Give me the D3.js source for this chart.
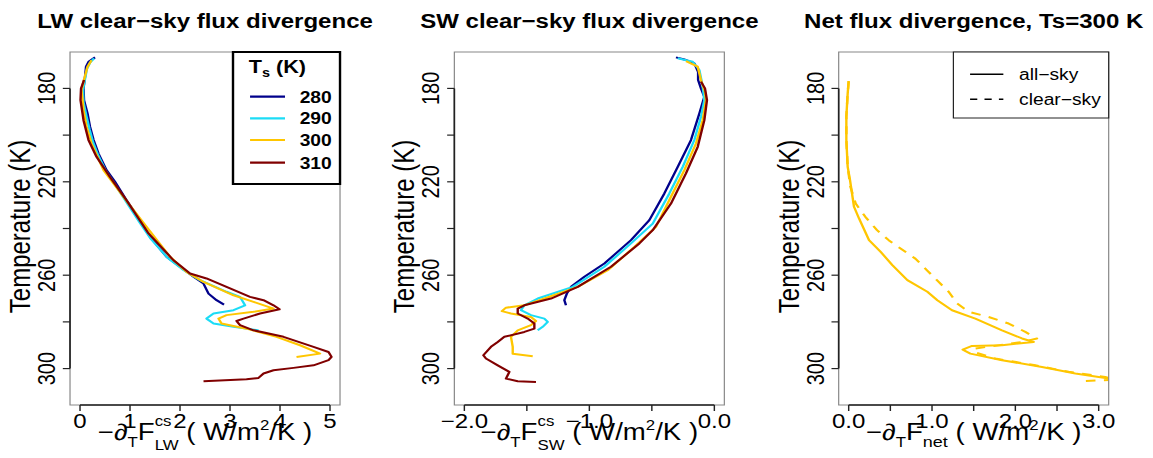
<!DOCTYPE html>
<html>
<head>
<meta charset="utf-8">
<script src="https://cdn.jsdelivr.net/npm/d3@7"></script>
<style>
  body { margin: 0; background: #fff; }
  text { font-family: "Liberation Sans", Arial, Helvetica, sans-serif; fill: #000; }
</style>
</head>
<body>
<svg id="chart"></svg>
<script>
// temperature axis (shared by all panels)
const yTicks = [180, 200, 220, 240, 260, 280, 300];
const yLabels = [180, 220, 260, 300];

// surface temperatures of the LW / SW panels
const surfaceTemps = ["280", "290", "300", "310"];

// x ticks per panel
const lwTicks = [0, 1, 2, 3, 4, 5];
const lwLabels = [0, 1, 2, 3, 4, 5];
const swTicks = [-2, -1.5, -1, -0.5, 0];
const swLabels = [-2, -1, 0];
const netTicks = [0, 0.5, 1, 1.5, 2, 2.5, 3];
const netLabels = [0, 1, 2, 3];

// [flux divergence, temperature]
const lw280 = [[0.30,166.7],[0.17,168.6],[0.12,170.7],[0.10,175],[0.07,180],[0.08,185],[0.15,190.7],[0.20,196.4],[0.27,202],[0.37,207.9],[0.53,215],[0.70,220],[0.93,227.9],[1.20,236.4],[1.40,243.6],[1.73,252.1],[2.00,256.4],[2.27,260.7],[2.47,263.6],[2.57,267.9],[2.73,270.7],[2.88,272.6]];
const lw290 = [[0.28,167.1],[0.20,169],[0.14,171.5],[0.10,176],[0.06,180.5],[0.07,186],[0.13,192],[0.19,197.5],[0.26,203],[0.36,208.5],[0.52,215.5],[0.68,220.5],[0.92,228.5],[1.18,237],[1.40,244],[1.75,252.5],[2.05,257.5],[2.40,262.1],[2.93,267.1],[3.20,269.3],[3.30,272.9],[3.07,275],[2.67,276.4],[2.53,278.6],[2.67,280.7],[3.07,282.1],[3.57,283.6]];
const lw300 = [[0.23,167.9],[0.15,170.7],[0.07,177],[0.03,180.7],[0.07,189.3],[0.13,196.4],[0.23,203.6],[0.47,215],[0.67,220.7],[0.97,229.3],[1.33,239.3],[1.80,252.1],[2.13,258.6],[2.47,262.9],[3.07,268.6],[3.47,271.4],[3.87,274.3],[3.47,275.7],[2.93,277.1],[2.77,278.6],[2.83,280.7],[3.33,282.9],[3.93,286.4],[4.40,290],[4.80,293.6],[4.33,295]];
const lw310 = [[0.08,176.4],[0.02,180],[0.01,185],[0.07,193.6],[0.17,202.1],[0.33,209.3],[0.60,217.9],[0.93,227.9],[1.37,242.1],[1.87,253.6],[2.20,259.3],[2.53,261.4],[2.93,265],[3.40,269.3],[3.67,270.7],[3.87,272.9],[3.99,274.6],[3.60,276.4],[3.27,278.6],[3.13,279.6],[3.20,281.4],[3.47,283.6],[4.07,286.4],[4.67,290.7],[4.97,292.9],[5.03,295],[4.97,296.4],[4.67,298.6],[4.27,299.7],[3.87,300.7],[3.67,302.1],[3.57,304],[3.33,304.6],[2.47,305.4]];

const sw280 = [[-0.307,166.7],[-0.24,167.6],[-0.16,169.3],[-0.13,172.9],[-0.13,176.4],[-0.107,180],[-0.08,183.6],[-0.12,190.7],[-0.187,202.1],[-0.293,213.6],[-0.40,225],[-0.52,236.4],[-0.667,245],[-0.88,255],[-1.04,260.7],[-1.147,265],[-1.18,267.9],[-1.20,270.7],[-1.187,272.9]];
const sw290 = [[-0.293,167.1],[-0.173,168.6],[-0.12,172.1],[-0.093,179.3],[-0.08,185],[-0.107,192.1],[-0.16,202.1],[-0.253,213.6],[-0.36,225],[-0.493,237.9],[-0.667,246.4],[-0.88,256.4],[-1.133,265],[-1.413,270],[-1.52,272.9],[-1.547,275],[-1.467,277.1],[-1.36,278.6],[-1.333,280],[-1.373,282.1],[-1.413,283.6]];
const sw300 = [[-0.227,168.3],[-0.133,170.7],[-0.107,176.4],[-0.075,181.4],[-0.067,185],[-0.093,193.6],[-0.147,203.6],[-0.24,215],[-0.347,226.4],[-0.467,239.3],[-0.64,247.9],[-0.853,257.9],[-1.093,265],[-1.36,270],[-1.52,272.9],[-1.667,273.9],[-1.70,275.4],[-1.627,276.4],[-1.467,277.9],[-1.427,279.6],[-1.467,281.4],[-1.573,283.6],[-1.627,286.4],[-1.613,290.7],[-1.613,293.6],[-1.453,294.7]];
const sw310 = [[-0.107,177.1],[-0.075,180],[-0.059,185],[-0.08,193.6],[-0.133,205],[-0.227,216.4],[-0.347,229.3],[-0.493,240.7],[-0.60,246.4],[-0.827,256.4],[-1.093,265],[-1.307,270],[-1.52,272.9],[-1.573,274.3],[-1.573,276.4],[-1.493,278.6],[-1.44,280.7],[-1.44,282.9],[-1.52,284.3],[-1.68,286.4],[-1.733,288.6],[-1.787,290.7],[-1.848,294.3],[-1.827,295.7],[-1.733,298.6],[-1.64,301.4],[-1.667,304.3],[-1.573,305.4],[-1.427,305.7]];

const netAll = [[0.0,176.9],[-0.012,182.1],[-0.028,192.1],[-0.028,202.1],[-0.012,213.6],[0.016,219.3],[0.064,230.7],[0.124,235.7],[0.244,245],[0.384,250],[0.524,255.7],[0.704,262.1],[0.944,267.1],[1.064,270.7],[1.24,275],[1.52,278.6],[1.84,283.6],[2.08,287.1],[2.22,288.6],[1.84,290],[1.48,290.3],[1.368,291.9],[1.46,293.6],[1.84,296.4],[2.32,299.3],[2.72,302.1],[3.08,304],[3.2,304.6]];
const netClear = [[0.0,176.9],[-0.012,182.1],[-0.028,192.1],[-0.028,202.1],[-0.012,213.6],[0.02,222],[0.084,229.3],[0.2,235],[0.34,240.7],[0.48,245],[0.64,249],[0.80,252.9],[0.94,257.9],[1.08,262.9],[1.2,267.1],[1.3,272.1],[1.44,275.7],[1.68,277.9],[1.92,280.7],[2.12,284.3],[2.26,287.1],[2.08,288.6],[1.52,291.4],[1.5,292.9],[1.76,295.7],[2.24,298.6],[2.64,301.4],[3.08,303.6],[3.2,304.8],[2.77,305.4]];

const tsColors = ["#00008b", "#1cdcf6", "#ffc600", "#800000"];

// the picture is drawn in a 960-wide frame and stretched to 1153 like the original
const svg = d3.select("#chart")
    .attr("width", 1153)
    .attr("height", 458)
    .attr("viewBox", "0 0 960 458")
    .attr("preserveAspectRatio", "none");

const boxTop = 52, boxBottom = 405;
const y = d3.scaleLinear().domain([164.4, 315.6]).range([boxTop, boxBottom]);

function padded(lo, hi) {
    const r = hi - lo;
    return [lo - 0.04 * r, hi + 0.04 * r];
}

function drawLabel(g, parts, cx, baseline) {
    const t = g.append("text").attr("x", 0).attr("y", baseline);
    let prevShift = 0, prev = null;
    parts.forEach(p => {
        const s = t.append("tspan")
            .attr("font-size", p.size)
            .attr("dy", p.shift - prevShift)
            .text(p.text);
        if (p.back && prev) s.attr("dx", -prev.node().getComputedTextLength());
        prevShift = p.shift;
        prev = s;
    });
    const w = t.node().getBBox().width;
    t.attr("x", cx - w / 2);
}

function drawPanel(i, cfg) {
    const left = 320 * i + 58.3, right = 320 * i + 283.1;
    const x = d3.scaleLinear().domain(padded(cfg.xTicks[0], cfg.xTicks[cfg.xTicks.length - 1])).range([left, right]);
    const g = svg.append("g");
    const cx = (left + right) / 2;

    g.append("text")
        .attr("x", cx).attr("y", 28)
        .attr("text-anchor", "middle")
        .attr("font-size", 20).attr("font-weight", "bold")
        .text(cfg.title);

    g.append("clipPath").attr("id", "clip" + i)
        .append("rect").attr("x", left).attr("y", boxTop)
        .attr("width", right - left).attr("height", boxBottom - boxTop);

    const line = d3.line().x(d => x(d[0])).y(d => y(d[1]));
    const curves = g.append("g").attr("clip-path", "url(#clip" + i + ")");
    cfg.series.forEach(s => {
        curves.append("path")
            .attr("d", line(s.data))
            .attr("fill", "none")
            .attr("stroke", s.color)
            .attr("stroke-width", 2)
            .attr("stroke-linejoin", "round")
            .attr("stroke-dasharray", s.dash || null);
    });

    g.append("rect")
        .attr("x", left).attr("y", boxTop)
        .attr("width", right - left).attr("height", boxBottom - boxTop)
        .attr("fill", "none").attr("stroke", "#888").attr("stroke-width", 1);

    // left axis
    g.append("line")
        .attr("x1", left).attr("x2", left)
        .attr("y1", y(yTicks[0])).attr("y2", y(yTicks[yTicks.length - 1]))
        .attr("stroke", "#222").attr("stroke-width", 1.4);
    g.selectAll(".yt").data(yTicks).join("line")
        .attr("x1", left - 6).attr("x2", left)
        .attr("y1", d => y(d)).attr("y2", d => y(d))
        .attr("stroke", "#222").attr("stroke-width", 1.2);
    g.selectAll(".yl").data(yLabels).join("text")
        .attr("transform", d => `translate(${left - 12.5},${y(d)}) rotate(-90)`)
        .attr("text-anchor", "middle")
        .attr("font-size", 20)
        .text(d => d);
    g.append("text")
        .attr("transform", `translate(25,${(boxTop + boxBottom) / 2 - 2}) translate(${320 * i},0) rotate(-90)`)
        .attr("text-anchor", "middle")
        .attr("font-size", 24)
        .text("Temperature (K)");

    // bottom axis
    g.append("line")
        .attr("x1", x(cfg.xTicks[0])).attr("x2", x(cfg.xTicks[cfg.xTicks.length - 1]))
        .attr("y1", boxBottom).attr("y2", boxBottom)
        .attr("stroke", "#222").attr("stroke-width", 1.4);
    g.selectAll(".xt").data(cfg.xTicks).join("line")
        .attr("x1", d => x(d)).attr("x2", d => x(d))
        .attr("y1", boxBottom).attr("y2", boxBottom + 6)
        .attr("stroke", "#222").attr("stroke-width", 1.2);
    g.selectAll(".xl").data(cfg.xLabels).join("text")
        .attr("x", d => x(d)).attr("y", 428)
        .attr("text-anchor", "middle")
        .attr("font-size", 20)
        .text(d => cfg.fmt(d).replace("-", "\u2212"));

    drawLabel(g, cfg.xLabel, cx, 440);

    if (cfg.legend) cfg.legend(g, left, right);
}

function unitParts() {
    return [
        { text: " ( W/m", size: 23, shift: 0 },
        { text: "2", size: 14, shift: -10 },
        { text: "/K )", size: 23, shift: 0 }
    ];
}

drawPanel(0, {
    title: "LW clear\u2212sky flux divergence",
    xTicks: lwTicks, xLabels: lwLabels, fmt: d3.format("d"),
    series: [lw280, lw290, lw300, lw310].map((d, k) => ({ data: d, color: tsColors[k] })),
    xLabel: [
        { text: "\u2212\u2202", size: 23, shift: 0 },
        { text: "T", size: 14, shift: 7 },
        { text: "F", size: 23, shift: 0 },
        { text: "cs", size: 14, shift: -14 },
        { text: "LW", size: 14, shift: 10, back: true }
    ].concat(unitParts()),
    legend: (g, left, right) => {
        const lx = 194, lw = right - lx;
        g.append("rect").attr("x", lx).attr("y", boxTop).attr("width", lw).attr("height", 132)
            .attr("fill", "#fff").attr("stroke", "#000").attr("stroke-width", 2);
        const tt = g.append("text").attr("x", 231).attr("y", 73.5)
            .attr("text-anchor", "middle").attr("font-weight", "bold").attr("font-size", 18);
        tt.append("tspan").text("T");
        tt.append("tspan").attr("font-size", 12).attr("dy", 4).text("s");
        tt.append("tspan").attr("dy", -4).text("  (K)");
        const rowY = [96.7, 118.3, 140, 162.7];
        surfaceTemps.forEach((ts, k) => {
            g.append("line").attr("x1", 208.2).attr("x2", 237.3)
                .attr("y1", rowY[k]).attr("y2", rowY[k])
                .attr("stroke", tsColors[k]).attr("stroke-width", 2.2);
            g.append("text").attr("x", 249.5).attr("y", rowY[k] + 6)
                .attr("font-weight", "bold").attr("font-size", 16).text(ts);
        });
    }
});

drawPanel(1, {
    title: "SW clear\u2212sky flux divergence",
    xTicks: swTicks, xLabels: swLabels, fmt: d3.format(".1f"),
    series: [sw280, sw290, sw300, sw310].map((d, k) => ({ data: d, color: tsColors[k] })),
    xLabel: [
        { text: "\u2212\u2202", size: 23, shift: 0 },
        { text: "T", size: 14, shift: 7 },
        { text: "F", size: 23, shift: 0 },
        { text: "cs", size: 14, shift: -14 },
        { text: "SW", size: 14, shift: 10, back: true }
    ].concat(unitParts())
});

drawPanel(2, {
    title: "Net flux divergence, Ts=300 K",
    xTicks: netTicks, xLabels: netLabels, fmt: d3.format(".1f"),
    series: [
        { data: netAll, color: tsColors[2] },
        { data: netClear, color: tsColors[2], dash: "8,7" }
    ],
    xLabel: [
        { text: "\u2212\u2202", size: 23, shift: 0 },
        { text: "T", size: 14, shift: 7 },
        { text: "F", size: 23, shift: 0 },
        { text: "net", size: 15, shift: 7 }
    ].concat(unitParts()),
    legend: (g, left, right) => {
        const lx = 793.8;
        g.append("rect").attr("x", lx).attr("y", boxTop).attr("width", right - lx).attr("height", 66)
            .attr("fill", "#fff").attr("stroke", "#222").attr("stroke-width", 1);
        const rows = [["all\u2212sky", null, 74.3], ["clear\u2212sky", "8,7", 99.3]];
        rows.forEach(r => {
            g.append("line").attr("x1", 807.7).attr("x2", 835.4)
                .attr("y1", r[2]).attr("y2", r[2])
                .attr("stroke", "#000").attr("stroke-width", 1.6)
                .attr("stroke-dasharray", r[1] ? "6,6" : null);
            g.append("text").attr("x", 848.5).attr("y", r[2] + 6)
                .attr("font-size", 16).text(r[0]);
        });
    }
});
</script>
</body>
</html>
